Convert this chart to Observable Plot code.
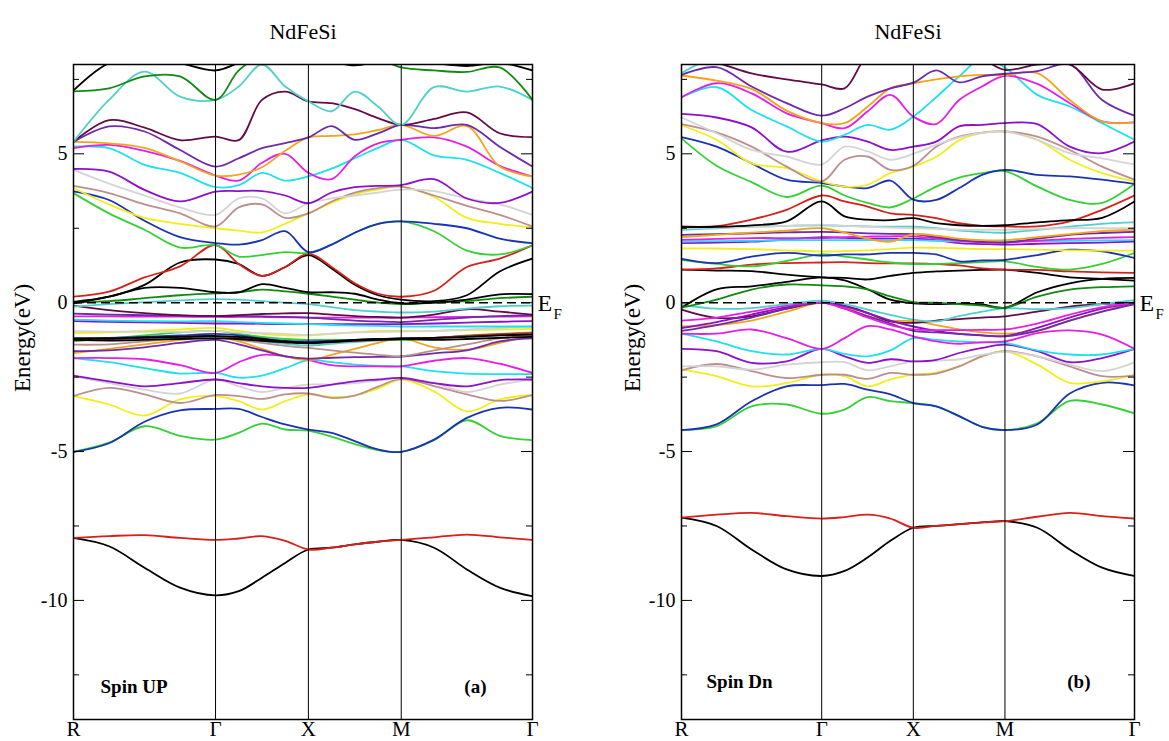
<!DOCTYPE html>
<html><head><meta charset="utf-8">
<script src="https://cdn.jsdelivr.net/npm/d3@7"></script>
<script src="https://cdn.jsdelivr.net/npm/@observablehq/plot@0.6"></script>
<style>
body{margin:0;background:#fff;}
#wrap{width:1169px;height:741px;display:flex;}
#wrap svg{display:block;}
</style></head><body><div id="wrap"></div>
<script>
// k-path sample positions (R–Γ–X–M–Γ) and high-symmetry labels
const kNodes = [0, 0.3825, 0.765, 1.1475, 1.53, 1.78, 2.03, 2.28, 2.53, 2.78, 3.03, 3.28, 3.53, 3.8835, 4.237, 4.5905, 4.944];
const kTicks = [0, 1.53, 2.53, 3.53, 4.944];
const kLabels = ["R", "Γ", "X", "M", "Γ"];
const yLabelTicks = [-10, -5, 0, 5];
const yMajorTicks = [-10, -5, 0, 5];
const yMinorTicks = [-12.5, -7.5, -2.5, 2.5, 7.5];

// Spin UP bands (eV at each k node)
const upBands = [
 [-7.90,-8.18,-8.90,-9.57,-9.83,-9.69,-9.24,-8.74,-8.29,-8.23,-8.12,-8.03,-7.97,-8.23,-8.96,-9.57,-9.86],
 [-7.90,-7.84,-7.81,-7.90,-7.97,-7.92,-7.84,-8.00,-8.29,-8.23,-8.12,-8.03,-7.97,-7.88,-7.79,-7.88,-7.97],
 [-5.01,-4.70,-4.15,-4.47,-4.60,-4.37,-4.06,-4.26,-4.30,-4.50,-4.75,-4.95,-5.01,-4.62,-3.95,-4.47,-4.62],
 [-5.01,-4.72,-4.00,-3.62,-3.57,-3.57,-3.84,-4.09,-4.26,-4.37,-4.65,-4.93,-5.01,-4.60,-3.87,-3.53,-3.59],
 [-3.14,-3.42,-3.79,-3.25,-3.14,-3.31,-3.59,-3.31,-3.08,-3.17,-3.12,-2.88,-2.58,-2.98,-3.65,-3.25,-3.10],
 [-3.14,-2.86,-3.08,-3.37,-3.10,-3.14,-3.23,-3.08,-3.05,-3.20,-3.12,-2.82,-2.56,-2.80,-3.08,-3.30,-3.10],
 [-2.47,-2.70,-2.92,-3.05,-2.58,-2.81,-3.00,-2.86,-2.75,-2.75,-2.70,-2.62,-2.53,-2.70,-3.00,-2.75,-2.58],
 [-2.45,-2.64,-2.81,-2.70,-2.58,-2.70,-2.81,-2.86,-2.86,-2.75,-2.64,-2.58,-2.53,-2.70,-2.81,-2.60,-2.58],
 [-1.86,-2.00,-2.20,-2.38,-2.36,-2.52,-2.45,-2.20,-1.93,-2.00,-2.08,-2.12,-2.14,-2.30,-2.38,-2.40,-2.40],
 [-1.86,-1.86,-1.90,-2.10,-2.36,-2.00,-1.75,-1.80,-1.93,-2.10,-2.14,-2.14,-2.14,-1.95,-1.86,-2.05,-2.36],
 [-1.69,-1.55,-1.40,-1.25,-1.15,-1.30,-1.55,-1.80,-1.93,-1.75,-1.55,-1.35,-1.20,-1.50,-1.58,-1.35,-1.10],
 [-1.63,-1.60,-1.50,-1.35,-1.25,-1.40,-1.60,-1.80,-1.88,-1.85,-1.83,-1.82,-1.81,-1.70,-1.60,-1.30,-1.20],
 [-1.41,-1.40,-1.30,-1.20,-1.15,-1.25,-1.35,-1.45,-1.52,-1.60,-1.68,-1.75,-1.80,-1.60,-1.40,-1.20,-1.10],
 [-1.25,-1.25,-1.20,-1.20,-1.15,-1.20,-1.30,-1.38,-1.44,-1.38,-1.32,-1.27,-1.24,-1.22,-1.15,-1.10,-1.05],
 [-1.30,-1.20,-1.10,-1.00,-0.95,-1.05,-1.15,-1.22,-1.25,-1.25,-1.25,-1.25,-1.25,-1.20,-1.10,-1.05,-1.00],
 [-1.20,-1.18,-1.15,-1.10,-1.05,-1.10,-1.20,-1.28,-1.30,-1.28,-1.25,-1.22,-1.20,-1.18,-1.12,-1.08,-1.05],
 [-1.25,-1.22,-1.18,-1.15,-1.12,-1.18,-1.25,-1.32,-1.37,-1.32,-1.28,-1.25,-1.22,-1.18,-1.12,-1.06,-1.02],
 [-1.20,-1.20,-1.17,-1.15,-1.12,-1.15,-1.22,-1.30,-1.35,-1.30,-1.25,-1.22,-1.20,-1.18,-1.15,-1.10,-1.07],
 [-1.25,-1.27,-1.25,-1.22,-1.20,-1.22,-1.28,-1.33,-1.35,-1.32,-1.27,-1.25,-1.22,-1.25,-1.22,-1.18,-1.15],
 [-1.02,-1.00,-0.95,-0.90,-0.85,-0.95,-1.05,-1.10,-1.10,-1.05,-1.00,-0.95,-0.95,-0.95,-0.92,-0.90,-0.88],
 [-0.96,-0.97,-0.98,-0.98,-0.95,-1.00,-1.02,-1.05,-1.08,-1.04,-1.00,-0.98,-0.97,-0.95,-0.90,-0.85,-0.80],
 [-0.62,-0.64,-0.66,-0.68,-0.70,-0.70,-0.71,-0.72,-0.72,-0.72,-0.72,-0.72,-0.72,-0.70,-0.67,-0.64,-0.62],
 [-0.57,-0.60,-0.62,-0.63,-0.62,-0.65,-0.68,-0.70,-0.72,-0.75,-0.77,-0.78,-0.80,-0.80,-0.80,-0.80,-0.80],
 [-0.46,-0.46,-0.47,-0.47,-0.48,-0.48,-0.48,-0.49,-0.50,-0.50,-0.50,-0.50,-0.50,-0.49,-0.48,-0.47,-0.46],
 [-0.37,-0.40,-0.42,-0.44,-0.45,-0.45,-0.46,-0.48,-0.50,-0.55,-0.60,-0.63,-0.65,-0.58,-0.50,-0.45,-0.42],
 [-0.10,-0.25,-0.35,-0.42,-0.45,-0.42,-0.38,-0.36,-0.35,-0.40,-0.45,-0.48,-0.50,-0.40,-0.22,-0.30,-0.40],
 [-0.13,-0.05,0.02,0.08,0.12,0.10,0.05,0.00,-0.05,-0.15,-0.25,-0.30,-0.33,-0.30,-0.20,-0.12,-0.10],
 [0.00,0.05,0.15,0.25,0.31,0.35,0.44,0.38,0.30,0.20,0.10,0.00,-0.05,0.00,0.05,0.15,0.20],
 [-0.02,0.20,0.50,0.50,0.35,0.35,0.62,0.50,0.35,0.35,0.30,0.10,-0.02,0.00,0.10,0.28,0.29],
 [0.03,0.20,0.60,1.35,1.45,1.30,0.90,1.20,1.60,1.15,0.60,0.25,0.10,0.05,0.25,1.05,1.48],
 [0.20,0.37,0.85,1.22,1.93,1.30,0.90,1.20,1.65,1.20,0.65,0.30,0.20,0.40,1.20,1.48,1.93],
 [3.68,3.00,2.45,1.85,1.93,1.55,1.60,1.70,1.67,1.95,2.35,2.65,2.73,2.40,1.75,1.62,1.93],
 [3.74,3.45,2.75,2.20,2.00,1.95,2.10,2.40,1.70,1.95,2.35,2.65,2.73,2.65,2.50,2.15,2.00],
 [3.85,3.30,2.85,2.65,2.50,2.42,2.36,2.65,3.00,3.35,3.65,3.80,3.90,3.55,2.85,2.65,2.53],
 [3.92,3.68,3.30,3.00,2.56,3.20,3.30,2.85,3.00,3.40,3.70,3.85,3.90,3.60,3.25,2.95,2.56],
 [4.46,4.00,3.60,3.20,2.95,3.50,3.50,3.00,3.34,3.50,3.60,3.70,3.80,3.75,3.50,3.30,2.95],
 [4.49,4.40,3.79,3.40,3.73,3.75,3.75,3.60,3.34,3.70,3.88,3.92,3.95,4.15,3.50,3.35,3.73],
 [5.24,5.19,4.63,4.36,3.88,3.95,4.36,4.10,4.24,4.50,4.85,5.20,5.47,4.95,4.80,4.36,3.85],
 [5.19,5.30,5.10,4.76,4.27,4.10,4.70,5.00,4.36,4.15,4.92,5.35,5.47,5.55,5.24,4.60,4.24],
 [5.40,5.35,5.20,4.75,4.27,4.30,4.55,5.10,5.55,5.60,5.65,5.80,5.97,5.60,5.93,4.57,4.24],
 [5.40,5.92,5.75,5.13,4.57,4.85,5.19,5.36,5.55,5.93,5.47,5.69,5.97,5.86,5.97,5.24,4.57],
 [5.40,6.13,5.88,5.46,5.58,5.46,6.81,7.09,6.76,6.70,6.50,6.20,5.97,6.17,6.39,5.69,5.56],
 [5.40,6.81,7.76,6.92,6.81,7.26,8.00,7.26,6.76,6.43,7.09,6.59,5.97,7.24,7.09,7.26,6.81],
 [7.10,7.20,7.60,7.60,6.81,7.80,8.30,8.30,8.30,8.30,8.30,8.20,7.90,7.80,7.75,7.90,6.81],
 [7.13,8.05,8.30,8.05,7.80,8.05,8.30,8.30,8.30,8.10,7.97,8.10,8.20,8.05,7.95,8.05,7.80]
];
const upColors = ["black","red","green","blue","yellow","brown","grey","violet","cyan","magenta",
 "orange","indigo","brown","turquoise","green","blue","red","black","black","yellow","grey","violet",
 "cyan","magenta","indigo","maroon","turquoise","green4","black","black","red","green","blue","yellow",
 "brown","grey","violet","cyan","magenta","orange","indigo","maroon","turquoise","green4","black"];

// Spin Dn bands
const dnBands = [
 [-7.22,-7.50,-8.29,-8.96,-9.18,-9.01,-8.56,-8.00,-7.56,-7.50,-7.44,-7.38,-7.34,-7.56,-8.29,-8.90,-9.18],
 [-7.22,-7.12,-7.06,-7.17,-7.25,-7.20,-7.12,-7.25,-7.56,-7.50,-7.44,-7.38,-7.34,-7.19,-7.06,-7.17,-7.25],
 [-4.28,-4.15,-3.48,-3.42,-3.73,-3.59,-3.17,-3.31,-3.37,-3.48,-3.81,-4.17,-4.28,-4.05,-3.30,-3.42,-3.72],
 [-4.28,-4.09,-3.31,-2.81,-2.77,-2.73,-2.92,-3.08,-3.37,-3.48,-3.81,-4.17,-4.28,-4.09,-3.05,-2.69,-2.78],
 [-2.24,-2.47,-2.81,-2.70,-2.42,-2.47,-2.81,-2.58,-2.42,-2.35,-2.14,-1.80,-1.63,-2.08,-2.69,-2.64,-2.42],
 [-2.27,-2.06,-2.30,-2.53,-2.42,-2.42,-2.56,-2.36,-2.42,-2.38,-2.14,-1.80,-1.63,-1.80,-2.14,-2.47,-2.45],
 [-2.14,-2.14,-2.25,-2.08,-2.00,-2.00,-2.27,-2.14,-1.97,-1.95,-1.90,-1.75,-1.65,-1.80,-2.08,-2.30,-2.00],
 [-1.55,-1.63,-2.02,-1.97,-1.55,-1.80,-2.02,-1.90,-1.97,-1.92,-1.69,-1.52,-1.41,-1.63,-2.00,-1.86,-1.55],
 [-1.04,-1.30,-1.63,-1.74,-1.55,-1.72,-1.80,-1.60,-1.19,-1.25,-1.30,-1.33,-1.35,-1.60,-1.74,-1.74,-1.55],
 [-1.04,-1.04,-0.90,-1.19,-1.55,-1.19,-0.79,-0.90,-1.13,-1.30,-1.38,-1.33,-1.30,-1.02,-0.93,-1.07,-1.55],
 [-0.80,-0.75,-0.60,-0.30,0.00,-0.15,-0.45,-0.60,-0.62,-0.75,-0.90,-1.00,-1.04,-0.95,-0.60,-0.30,0.00],
 [-0.23,-0.51,-0.46,-0.20,0.00,-0.10,-0.34,-0.63,-0.68,-0.60,-0.55,-0.50,-0.46,-0.30,-0.13,-0.05,0.00],
 [-0.85,-0.65,-0.40,-0.15,0.00,-0.12,-0.35,-0.60,-0.80,-0.95,-1.05,-1.10,-1.12,-0.85,-0.50,-0.20,0.00],
 [-0.95,-0.75,-0.50,-0.20,0.00,-0.20,-0.45,-0.70,-0.95,-1.00,-1.05,-1.10,-1.13,-0.95,-0.60,-0.30,-0.05],
 [-0.60,-0.50,-0.30,-0.10,0.00,-0.20,-0.50,-0.75,-0.90,-0.92,-0.92,-0.91,-0.90,-0.70,-0.40,-0.15,0.00],
 [-0.07,-0.20,-0.18,-0.05,0.07,-0.05,-0.23,-0.41,-0.57,-0.63,-0.45,-0.30,-0.19,-0.22,-0.18,-0.05,0.09],
 [-0.17,0.45,0.55,0.70,0.85,0.75,0.45,0.10,-0.02,-0.05,-0.03,-0.06,-0.17,0.35,0.65,0.80,0.83],
 [-0.17,0.10,0.44,0.61,0.58,0.55,0.45,0.21,0.02,0.00,-0.05,-0.10,-0.17,0.20,0.44,0.52,0.55],
 [1.11,1.08,1.06,0.94,0.85,0.83,0.78,0.90,1.00,1.05,1.08,1.10,1.11,1.00,0.85,0.80,0.74],
 [1.11,1.15,1.28,1.33,1.35,1.36,1.33,1.32,1.32,1.30,1.25,1.15,1.11,1.10,1.05,1.02,1.00],
 [1.44,1.30,1.22,1.40,1.62,1.55,1.45,1.35,1.30,1.30,1.33,1.36,1.39,1.20,1.11,1.30,1.67],
 [1.47,1.33,1.55,1.67,1.58,1.62,1.62,1.67,1.67,1.62,1.39,1.42,1.44,1.60,1.78,1.72,1.50],
 [1.82,1.82,1.80,1.76,1.72,1.73,1.76,1.80,1.85,1.84,1.82,1.80,1.80,1.78,1.76,1.75,1.75],
 [2.00,2.02,2.05,2.12,2.20,2.18,2.15,2.15,2.15,2.10,2.00,1.97,1.95,1.98,2.00,2.02,2.05],
 [2.05,2.07,2.08,2.10,2.10,2.10,2.10,2.10,2.10,2.08,2.06,2.05,2.05,2.07,2.08,2.09,2.10],
 [2.11,2.14,2.17,2.17,2.17,2.20,2.22,2.23,2.23,2.15,2.08,2.03,2.02,2.08,2.14,2.18,2.20],
 [2.28,2.30,2.33,2.36,2.38,2.36,2.33,2.31,2.30,2.20,2.10,2.04,2.02,2.15,2.28,2.34,2.38],
 [2.20,2.28,2.35,2.42,2.50,2.35,2.15,2.05,2.30,2.25,2.15,2.10,2.10,2.20,2.30,2.40,2.45],
 [2.45,2.50,2.55,2.58,2.60,2.58,2.56,2.55,2.55,2.50,2.42,2.37,2.35,2.45,2.55,2.65,2.70],
 [2.50,2.52,2.55,2.58,2.62,2.58,2.55,2.52,2.50,2.48,2.45,2.45,2.45,2.48,2.50,2.50,2.50],
 [2.56,2.57,2.79,3.12,3.60,3.40,3.23,3.00,2.95,2.84,2.67,2.58,2.56,2.56,2.73,3.12,3.60],
 [2.54,2.55,2.60,2.73,3.40,2.90,2.79,2.77,2.84,2.67,2.60,2.58,2.60,2.70,2.77,2.85,3.40],
 [5.52,4.60,4.05,3.55,3.93,3.60,3.35,3.20,3.50,3.90,4.20,4.35,4.42,3.90,3.45,3.35,4.00],
 [5.56,5.24,4.68,4.13,4.02,3.90,3.85,4.10,3.46,3.45,3.85,4.29,4.46,4.29,4.24,4.13,3.99],
 [5.96,5.47,4.68,4.52,4.07,3.90,3.96,4.35,4.57,4.90,5.45,5.70,5.75,5.47,4.80,4.35,4.07],
 [6.00,5.72,5.24,4.57,4.07,4.80,4.91,4.46,4.60,5.24,5.58,5.71,5.75,5.58,5.13,4.57,4.13],
 [6.22,5.69,5.13,4.91,4.64,5.24,5.08,4.80,5.00,5.30,5.55,5.70,5.75,5.47,5.02,4.85,4.64],
 [6.34,6.22,5.89,5.07,5.45,5.58,5.41,5.13,5.24,5.41,5.92,5.97,6.03,6.00,5.24,5.02,5.41],
 [6.90,7.24,6.47,5.92,5.41,5.64,5.97,5.81,6.25,6.90,7.60,8.20,7.90,6.98,6.59,6.03,5.47],
 [6.90,7.37,7.03,6.36,6.03,5.86,6.42,6.98,6.25,6.00,6.81,7.26,7.62,7.35,6.70,6.09,6.06],
 [7.63,7.46,7.18,6.45,6.03,6.03,6.58,7.20,7.37,7.50,7.60,7.65,7.65,7.71,6.81,6.09,6.06],
 [7.65,7.91,7.26,6.70,6.28,6.53,6.92,7.20,7.39,7.80,7.40,7.60,7.69,7.78,8.00,6.81,6.28],
 [8.20,8.05,7.70,7.50,7.33,7.20,8.30,8.50,8.50,8.50,8.50,8.20,7.82,8.00,8.00,7.16,7.37],
 [7.71,8.30,8.60,8.60,8.60,8.60,8.60,8.60,8.60,8.60,8.60,8.60,8.60,8.60,8.60,8.60,8.60]
];
const dnColors = ["black","red","green","blue","yellow","brown","grey","violet","cyan","magenta",
 "orange","maroon","violet","indigo","magenta","turquoise","black","green4","black","red","green","blue",
 "yellow","violet","cyan","magenta","indigo","orange","turquoise","grey","red","black","green","blue",
 "yellow","brown","grey","violet","cyan","magenta","orange","indigo","maroon","turquoise"];

const palette = {black:"#000000", red:"#d8201a", green:"#35d035", blue:"#1a33b5", yellow:"#f2ee1a",
 brown:"#bc8f8f", grey:"#d4d4d4", violet:"#8e10cc", cyan:"#1ee0ee", magenta:"#e61ee6", orange:"#f5a31a",
 indigo:"#6e2aa8", maroon:"#650a48", turquoise:"#4fd0cc", green4:"#108a10"};

const serif = "'Liberation Serif', 'Times New Roman', serif";

function bandPanel({bands, colors, width, marginLeft, marginRight, spin, tag, tagDy, spinDx, tagDx, labelDx}) {
  const rows = [];
  bands.forEach((E, i) => E.forEach((e, j) => rows.push({k: kNodes[j], E: e, band: i, color: palette[colors[i]]})));
  const fw = width - marginLeft - marginRight;
  return Plot.plot({
    width, height: 741, marginLeft, marginRight, marginTop: 64, marginBottom: 22,
    x: {domain: [0, 4.944], axis: null},
    y: {domain: [-14, 8], axis: null},
    color: {type: "identity"},
    style: {fontFamily: serif, background: "white", color: "black"},
    marks: [
      Plot.line(rows, {x: "k", y: "E", z: "band", stroke: "color", strokeWidth: 1.8, curve: "catmull-rom", clip: true}),
      Plot.ruleX(kTicks.slice(1, -1), {stroke: "black", strokeWidth: 1}),
      Plot.ruleY([0], {stroke: "black", strokeDasharray: "9,5", strokeWidth: 1.6}),
      Plot.tickY(yMajorTicks, {y: d => d, insetRight: fw - 11, stroke: "black"}),
      Plot.tickY(yMajorTicks, {y: d => d, insetLeft: fw - 11, stroke: "black"}),
      Plot.tickY(yMinorTicks, {y: d => d, insetRight: fw - 6, stroke: "black"}),
      Plot.tickY(yMinorTicks, {y: d => d, insetLeft: fw - 6, stroke: "black"}),
      Plot.frame({stroke: "black", strokeWidth: 1.5}),
      Plot.axisX({ticks: kTicks, tickFormat: d => kLabels[kTicks.indexOf(d)], tickSize: 0, tickPadding: 2, fontSize: 21, fontFamily: serif, label: null}),
      Plot.axisY({ticks: yLabelTicks, tickFormat: d => String(d), tickSize: 0, tickPadding: 6, fontSize: 20, fontFamily: serif, label: null}),
      Plot.text(["Energy(eV)"], {frameAnchor: "left", rotate: -90, dx: labelDx, fontSize: 23, fontFamily: serif}),
      Plot.text(["NdFeSi"], {frameAnchor: "top", dy: -41, fontSize: 22, fontFamily: serif}),
      Plot.text([spin], {frameAnchor: "bottom-left", dx: spinDx, dy: tagDy, fontSize: 19, fontWeight: "bold", textAnchor: "start", fontFamily: serif}),
      Plot.text([tag], {frameAnchor: "bottom-right", dx: tagDx, dy: tagDy, fontSize: 19, fontWeight: "bold", fontFamily: serif}),
      Plot.text([0], {x: kTicks[4], y: d => d, text: () => "E", dx: 5, dy: 1, textAnchor: "start", fontSize: 24, fontFamily: serif}),
      Plot.text([0], {x: kTicks[4], y: d => d, text: () => "F", dx: 21, dy: 12, textAnchor: "start", fontSize: 15, fontFamily: serif})
    ]
  });
}

const wrap = document.getElementById("wrap");
wrap.appendChild(bandPanel({bands: upBands, colors: upColors, width: 584, marginLeft: 73, marginRight: 52,
  spin: "Spin UP", tag: "(a)", tagDy: -27, spinDx: 27, tagDx: -46, labelDx: -51}));
wrap.appendChild(bandPanel({bands: dnBands, colors: dnColors, width: 585, marginLeft: 97, marginRight: 35,
  spin: "Spin Dn", tag: "(b)", tagDy: -32, spinDx: 25, tagDx: -44, labelDx: -49}));
</script>
</body></html>
